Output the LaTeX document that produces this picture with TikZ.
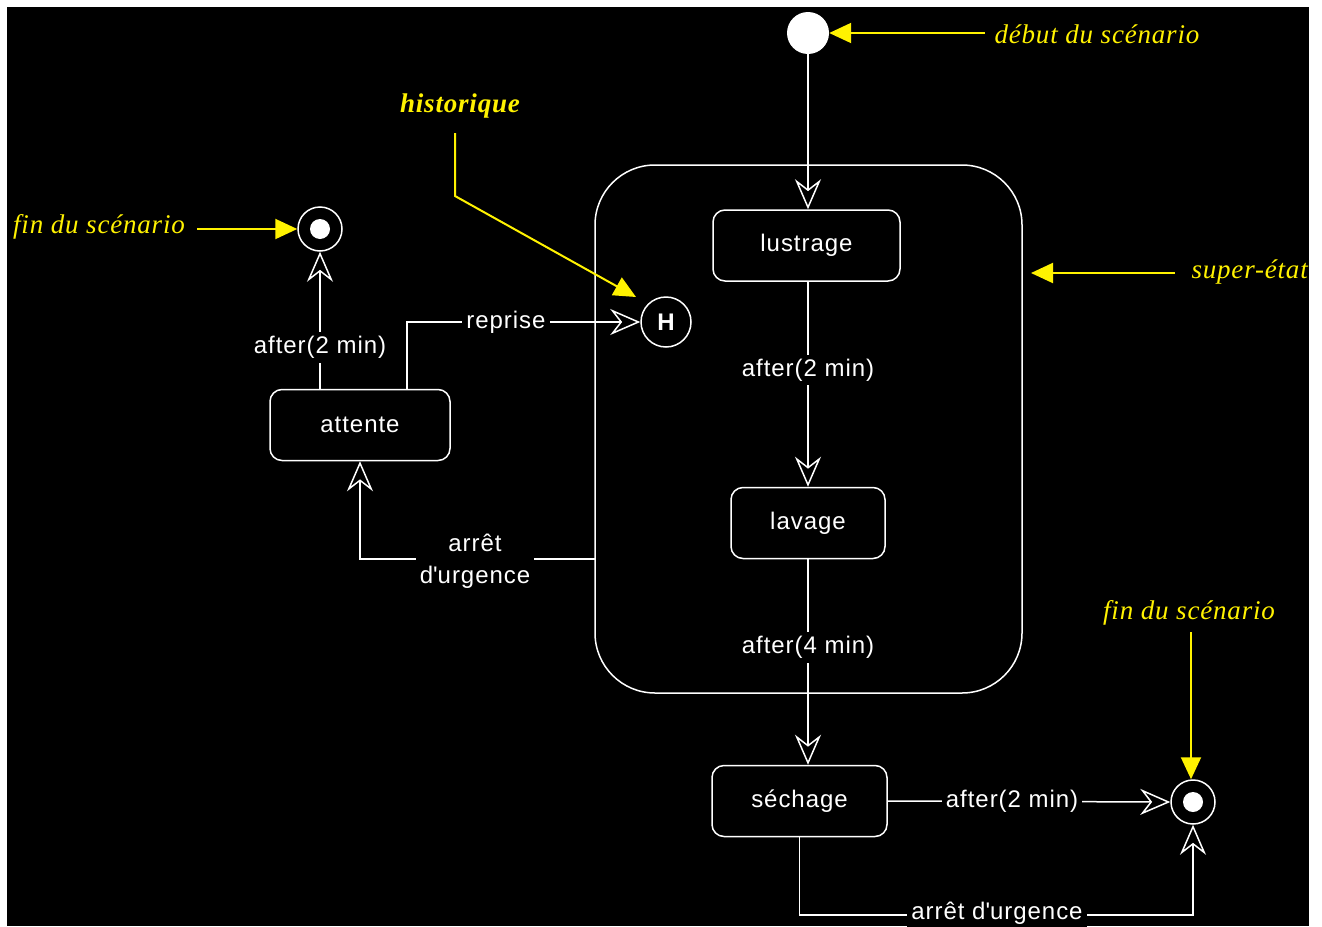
\documentclass[tikz,border=0pt]{standalone}
\usepackage{fontspec}
\setmainfont{Liberation Sans}[LetterSpace=4]
\newfontfamily\annfont{Liberation Serif}[LetterSpace=3]
\usetikzlibrary{arrows.meta,calc}
\begin{document}
\begin{tikzpicture}[x=1pt,y=-1pt,
  every node/.style={text=white,font=\fontsize{24}{30}\selectfont},
  statebox/.style={draw=white,line width=1.5pt,rounded corners=12pt,minimum height=71pt,inner sep=0pt},
  uml/.style={draw=white,line width=1.5pt,-{Stealth[open,length=30pt,width=26pt,inset=10pt,line width=1.5pt]}},
  lbl/.style={fill=black,inner sep=4pt,text=white},
  ann/.style={text=yellow,font=\annfont\itshape\fontsize{27}{32}\selectfont},
  annarrow/.style={draw=yellow,line width=2pt,-{Triangle[length=22pt,width=20pt]}}]
\useasboundingbox (0,0) rectangle (1322,926);
\fill[white] (0,0) rectangle (1322,926);
\fill[black] (7,7) rectangle (1309,926);
\begin{scope}
\clip (7,7) rectangle (1309,926);
% super state
\node[draw=white,line width=1.5pt,rounded corners=60pt,minimum width=427pt,minimum height=528pt,inner sep=0pt] (super) at (808.5,429) {};
% pseudo states
\node[circle,fill=white,minimum size=42pt,inner sep=0pt] (start) at (808,33) {};
\node[circle,draw=white,line width=1.5pt,minimum size=44pt,inner sep=0pt] (fin1) at (320,229) {};
\fill[white] (fin1.center) circle (10);
\node[circle,draw=white,line width=1.5pt,minimum size=44pt,inner sep=0pt] (fin2) at (1193,802) {};
\fill[white] (fin2.center) circle (10);
\node[circle,draw=white,line width=1.5pt,minimum size=50pt,inner sep=0pt,font=\bfseries\fontsize{24}{30}\selectfont] (hist) at (666,322) {H};
% states
\node[statebox,minimum width=187pt] (lustrage) at (806.5,245.5) {lustrage};
\node[statebox,minimum width=154pt] (lavage) at (808,523) {lavage};
\node[statebox,minimum width=175pt] (sechage) at (799.5,801) {séchage};
\node[statebox,minimum width=180pt] (attente) at (360,425) {attente};
% coordinates
\coordinate (c1) at (1193,915);
\coordinate (c2) at (407,322);
\coordinate (c3) at (595,559);
% transitions
\draw[uml] (start.south) -- (start.south |- lustrage.north);
\draw[uml] (lustrage.south -| lavage.north) -- (lavage.north) node[lbl,pos=0.43] {after(2 min)};
\draw[uml] (lavage.south) -- (lavage.south |- sechage.north) node[lbl,pos=0.43] {after(4 min)};
\draw[uml] (sechage.east) -- (fin2.west) node[lbl,pos=0.44] {after(2 min)};
\draw[uml] (sechage.south) |- (c1) -- (fin2.south);
\node[lbl] at (997,913) {arrêt d\textquotesingle urgence};
\draw[uml] (fin1.south |- attente.north) -- (fin1.south) node[lbl,pos=0.3] {after(2 min)};
\draw[uml] (attente.north -| c2) -- (c2) -- (hist.west);
\node[lbl] at (506,322) {reprise};
\draw[uml] (c3) -| (attente.south);
\node[lbl,align=center,inner sep=4pt,font=\fontsize{24}{32}\selectfont] at (475,561) {arrêt\\d\textquotesingle urgence};
% annotations
\node[ann,anchor=west] (a1) at (991,34) {début du scénario};
\draw[annarrow] (985,33) -- (start.east);
\node[ann] (a2) at (99,227) {fin du scénario};
\draw[annarrow] (197,229) -- (fin1.west);
\node[ann,font=\annfont\bfseries\itshape\fontsize{27}{32}\selectfont] (a3) at (460,106) {historique};
\coordinate (h1) at (455,133);
\coordinate (h2) at (455,196);
\coordinate (h3) at (636,297);
\draw[annarrow] (h1) -- (h2) -- (h3);
\node[ann,anchor=west] (a4) at (1188,272) {super-état};
\draw[annarrow] (1175,273) -- (1031,273);
\node[ann] (a5) at (1189,613) {fin du scénario};
\coordinate (f2) at (1191,632);
\draw[annarrow] (f2) -- (f2 |- fin2.north);
\end{scope}
\end{tikzpicture}
\end{document}
